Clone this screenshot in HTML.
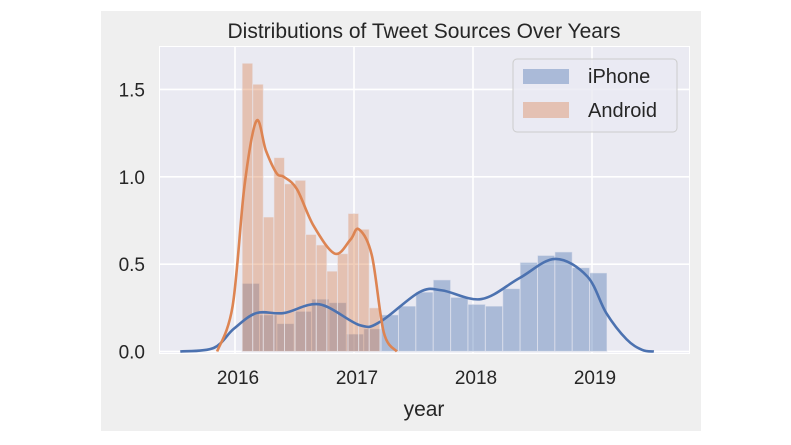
<!DOCTYPE html>
<html><head><meta charset="utf-8"><style>
body{margin:0;background:#fff;}
svg{display:block;font-family:"Liberation Sans",sans-serif;}
</style></head><body>
<svg id="chart" width="791" height="445">
<rect x="101" y="11" width="600" height="420" fill="#efefef"/>
<rect x="159" y="46" width="531" height="308" fill="#ffffff"/>
<rect x="160" y="47" width="529" height="306" fill="#eaeaf2"/>
<g id="grid"></g>
<g id="bars"></g>
<g id="lines"></g>
<g id="ticks"></g>
<text x="424" y="38" font-size="21" fill="#262626" text-anchor="middle">Distributions of Tweet Sources Over Years</text>
<text x="424" y="416" font-size="21" fill="#262626" text-anchor="middle">year</text>
<g>
<rect x="513" y="59" width="164" height="73" rx="4" fill="#eaeaf2" fill-opacity="0.8" stroke="#cccccc"/>
<rect x="523" y="69" width="46" height="15" fill="#4c72b0" fill-opacity="0.4"/>
<text x="588" y="83" font-size="20" fill="#262626">iPhone</text>
<rect x="523" y="102" width="46" height="16" fill="#dd8452" fill-opacity="0.4"/>
<text x="588" y="117" font-size="20" fill="#262626">Android</text>
</g>
</svg>
<script>
const xTicks=[2016,2017,2018,2019];
const yTicks=[0.0,0.5,1.0,1.5];
const yTickLabels=["0.0","0.5","1.0","1.5"];
const binStart=2016.06;
const androidBinWidth=0.089;
const iphoneBinWidth=0.146;
const androidHeights=[1.65,1.53,0.77,1.11,0.96,0.98,0.67,0.61,0.46,0.56,0.79,0.70,0.25];
const iphoneHeights=[0.39,0.21,0.16,0.23,0.30,0.28,0.10,0.13,0.21,0.26,0.34,0.41,0.31,0.27,0.26,0.36,0.51,0.55,0.57,0.48,0.45];
const androidKdeX=[2015.85,2015.98,2016.08,2016.18,2016.26,2016.35,2016.41,2016.52,2016.66,2016.84,2016.97,2017.04,2017.15,2017.25,2017.36];
const androidKdeY=[0,0.26,0.95,1.32,1.15,1.02,1.00,0.93,0.72,0.56,0.64,0.70,0.55,0.11,0];
const iphoneKdeX=[2015.54,2015.82,2015.99,2016.18,2016.41,2016.71,2017.05,2017.22,2017.55,2017.74,2018.07,2018.39,2018.69,2018.96,2019.12,2019.29,2019.42,2019.52];
const iphoneKdeY=[0,0.02,0.13,0.22,0.22,0.27,0.15,0.17,0.34,0.35,0.30,0.42,0.53,0.43,0.22,0.07,0.01,0];

const NS="http://www.w3.org/2000/svg";
const xs=v=>235+(v-2016)*119;
const ys=v=>351.5-v*174.7;
function mk(tag,attrs,parent){const e=document.createElementNS(NS,tag);for(const k in attrs)e.setAttribute(k,attrs[k]);document.getElementById(parent).appendChild(e);return e;}

xTicks.forEach(t=>{
  const l=mk('line',{x1:xs(t),x2:xs(t),y1:47,y2:353,stroke:'#fff','stroke-width':1.6},'grid');
  
  
  const tx=mk('text',{x:xs(t)+3,y:384,'font-size':19,fill:'#262626','text-anchor':'middle'},'ticks');
  tx.textContent=t;
  
  
});
yTicks.forEach((t,i)=>{
  const l=mk('line',{x1:160,x2:689,y1:ys(t),y2:ys(t),stroke:'#fff','stroke-width':1.6},'grid');
  
  
  const tx=mk('text',{x:145,y:ys(t)+7,'font-size':19,fill:'#262626','text-anchor':'end'},'ticks');
  tx.textContent=yTickLabels[i];
  
  
});
iphoneHeights.forEach((h,i)=>{
  const x0=xs(binStart+i*iphoneBinWidth),x1=xs(binStart+(i+1)*iphoneBinWidth);
  const r=mk('rect',{x:x0,y:ys(h),width:x1-x0,height:ys(0)-ys(h),fill:'#4c72b0','fill-opacity':0.4,stroke:'#eaeaf2','stroke-opacity':0.6,'stroke-width':1},'bars');
  
  
});
androidHeights.forEach((h,i)=>{
  const x0=xs(binStart+i*androidBinWidth),x1=xs(binStart+(i+1)*androidBinWidth);
  const r=mk('rect',{x:x0,y:ys(h),width:x1-x0,height:ys(0)-ys(h),fill:'#dd8452','fill-opacity':0.4,stroke:'#eaeaf2','stroke-opacity':0.6,'stroke-width':1},'bars');
  
  
});
function smooth(X,Y){
  const p=X.map((x,i)=>[xs(x),ys(Y[i])]);
  let d=`M${p[0][0]},${p[0][1]}`;
  for(let i=0;i<p.length-1;i++){
    const p0=p[i-1]||p[i],p1=p[i],p2=p[i+1],p3=p[i+2]||p2;
    const c1=[p1[0]+(p2[0]-p0[0])/6,p1[1]+(p2[1]-p0[1])/6];
    const c2=[p2[0]-(p3[0]-p1[0])/6,p2[1]-(p3[1]-p1[1])/6];
    d+=` C${c1[0]},${c1[1]} ${c2[0]},${c2[1]} ${p2[0]},${p2[1]}`;
  }
  return d;
}
const li=mk('path',{d:smooth(iphoneKdeX,iphoneKdeY),fill:'none',stroke:'#4c72b0','stroke-width':2.6},'lines');


const la=mk('path',{d:smooth(androidKdeX,androidKdeY),fill:'none',stroke:'#dd8452','stroke-width':2.6},'lines');


</script>
</body></html>
